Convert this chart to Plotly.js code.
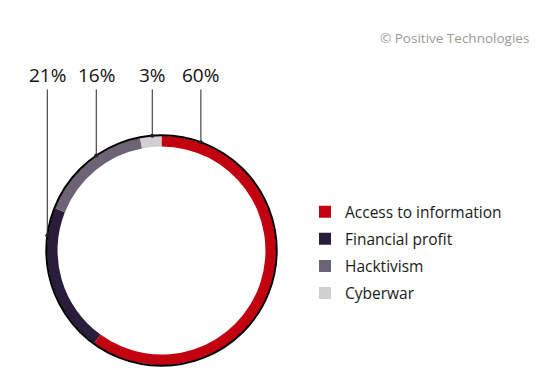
<!DOCTYPE html>
<html>
<head>
<meta charset="utf-8">
<script src="https://cdn.plot.ly/plotly-3.0.1.min.js"></script>
<style>html,body{margin:0;padding:0;background:#fff}#chart{width:550px;height:390px}</style>
</head>
<body>
<div id="chart"></div>
<script>
// ---- data ----
var categories = ["Access to information", "Financial profit", "Hacktivism", "Cyberwar"];
var shares = [60, 21, 16, 3];
var percentLabels = ["60%", "21%", "16%", "3%"];
var sourceText = "\u00A9 Positive Technologies";

// ---- style / layout ----
var colors = ["#c30010", "#2a1c3b", "#6d6374", "#d1cfd2"];
var labelAnchorAngles = [20, 277.5, 325.5, 355.4]; // degrees clockwise from top where leader lines touch ring
var W = 550, H = 390;
var cx = 161.5, cy = 250.5;   // ring centre (px)
var rPie = 114.5;             // outer radius of coloured ring (px)
var rBorder = 115.2;          // black outline radius (px)
var labelY = 75;              // percent label centre (px from top)

function px2x(x){ return x / W; }
function px2y(y){ return (H - y) / H; }

var pieTrace = {
  type: "pie",
  labels: categories,
  values: shares,
  sort: false,
  direction: "clockwise",
  rotation: 0,
  hole: 0.908,
  textinfo: "none",
  hoverinfo: "label+percent",
  marker: {colors: colors, line: {width: 0}},
  showlegend: false,
  domain: {x: [px2x(cx - rPie), px2x(cx + rPie)], y: [px2y(cy + rPie), px2y(cy - rPie)]}
};

// legend entries (one per category)
var legendTraces = categories.map(function(c, i){
  return {
    type: "scatter", mode: "markers", x: [null], y: [null],
    name: c, legendgroup: "g" + i, showlegend: true,
    marker: {symbol: "square", size: 12, color: colors[i]},
    hoverinfo: "skip"
  };
});

var annotations = [];
percentLabels.forEach(function(t, i){
  var a = labelAnchorAngles[i] * Math.PI / 180;
  var dx = cx + rBorder * Math.sin(a);
  var dy = cy - rBorder * Math.cos(a);
  annotations.push({
    xref: "paper", yref: "paper", x: px2x(dx), y: px2y(dy),
    text: t, showarrow: true, arrowhead: 6, arrowsize: 1, arrowwidth: 1,
    arrowcolor: "#222", ax: 0, ay: labelY - dy,
    font: {family: "Open Sans", size: 19, color: "#111"}
  });
});
annotations.push({
  xref: "paper", yref: "paper", x: px2x(531), y: px2y(38.5),
  xanchor: "right", yanchor: "middle", showarrow: false,
  text: sourceText, font: {family: "Open Sans", size: 13.5, color: "#9a9a9a"}
});

var layout = {
  width: W, height: H,
  margin: {l: 0, r: 0, t: 0, b: 0},
  paper_bgcolor: "#fff", plot_bgcolor: "#fff",
  xaxis: {visible: false, showgrid: false, zeroline: false},
  yaxis: {visible: false, showgrid: false, zeroline: false},
  showlegend: true,
  legend: {
    x: px2x(305), xanchor: "left", y: px2y(195.2), yanchor: "top",
    font: {family: "Open Sans", size: 15.5, color: "#1a1a1a"},
    tracegroupgap: 3.9, traceorder: "grouped", bgcolor: "rgba(0,0,0,0)"
  },
  shapes: [{
    type: "circle", xref: "paper", yref: "paper",
    x0: px2x(cx - rBorder), x1: px2x(cx + rBorder),
    y0: px2y(cy + rBorder), y1: px2y(cy - rBorder),
    line: {color: "#000", width: 2}, fillcolor: "rgba(0,0,0,0)", layer: "above"
  }],
  annotations: annotations
};

Plotly.newPlot("chart", [pieTrace].concat(legendTraces), layout, {displayModeBar: false, staticPlot: true});
</script>
</body>
</html>
